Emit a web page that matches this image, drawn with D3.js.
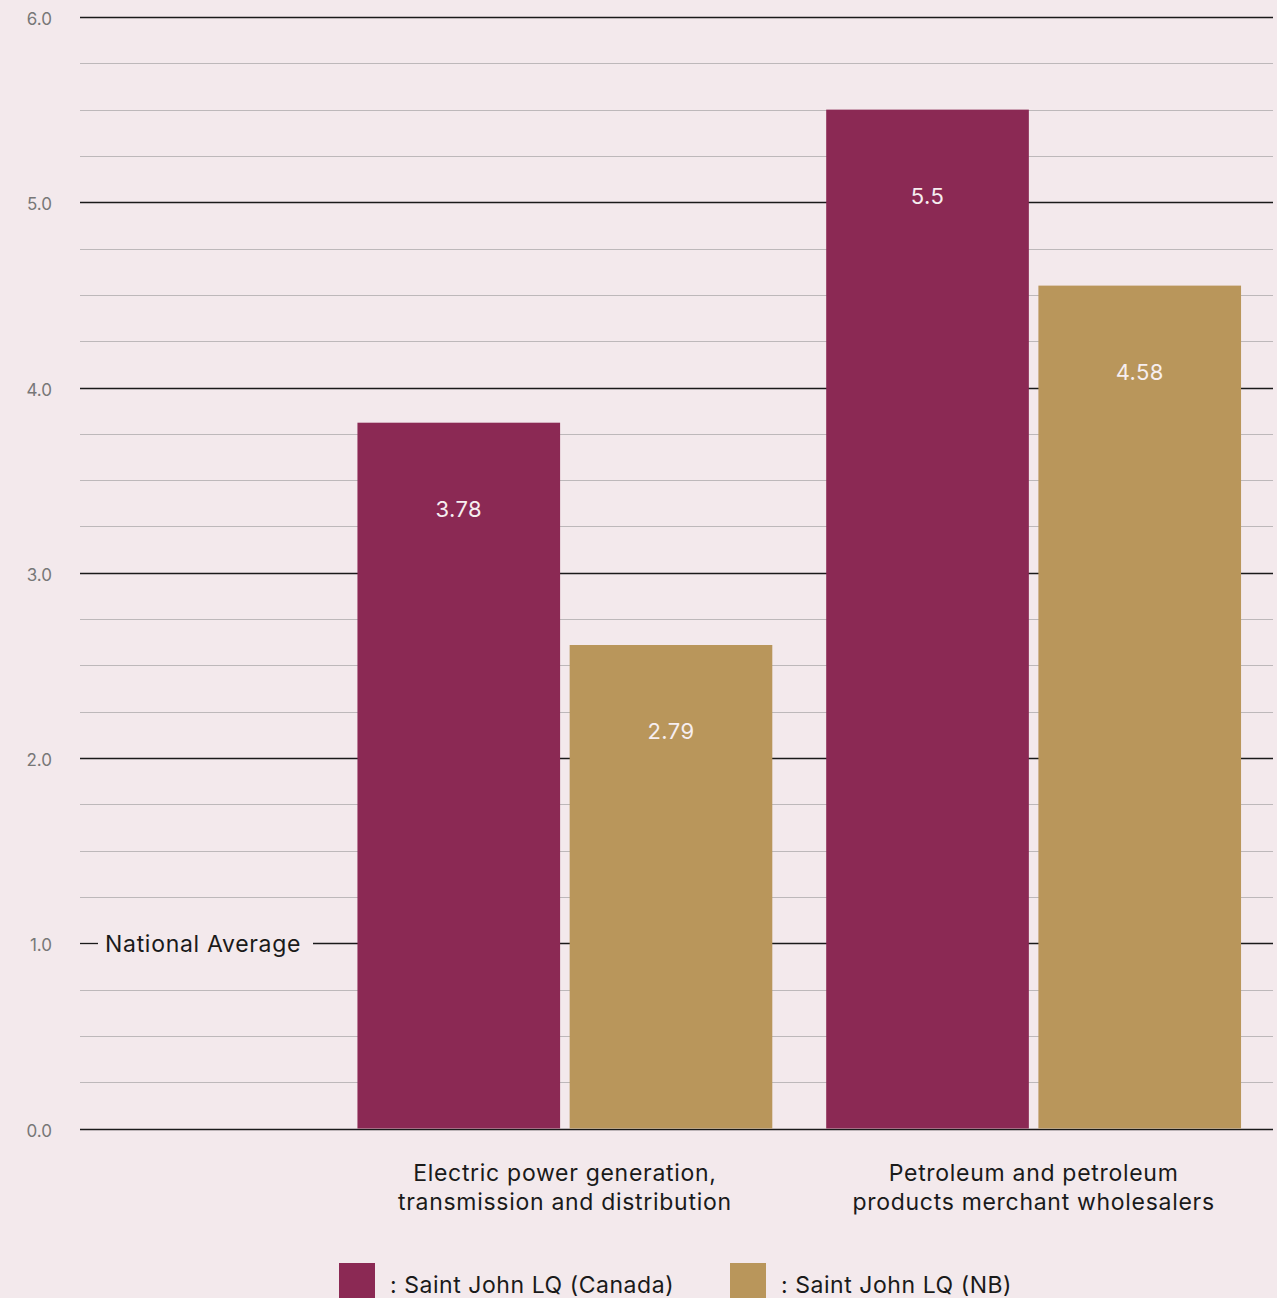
<!DOCTYPE html>
<html><head><meta charset="utf-8">
<script src="https://cdn.jsdelivr.net/npm/d3@7"></script>
<style>
html,body{margin:0;padding:0;background:#f3e9ec;}
svg{display:block;font-family:Inter,"Open Sans",sans-serif;}
</style></head>
<body>
<svg id="chart" width="1277" height="1298"></svg>
<script>
const categories = [["Electric power generation,", "transmission and distribution"], ["Petroleum and petroleum", "products merchant wholesalers"]];
const categoryKeys = ["electric", "petroleum"];
const seriesNames = [": Saint John LQ (Canada)", ": Saint John LQ (NB)"];
const canadaValues = [3.81, 5.50];
const nbValues = [2.61, 4.55];
const canadaLabels = ["3.78", "5.5"];
const nbLabels = ["2.79", "4.58"];
const yTicks = [0, 1, 2, 3, 4, 5, 6];
const yTickLabels = ["0.0", "1.0", "2.0", "3.0", "4.0", "5.0", "6.0"];
const minorTicks = d3.range(0, 6.01, 0.25);
const nationalAverage = 1.0;
const colors = ["#8b2954", "#b9965b"];

(function () {
const svg = d3.select("#chart");
const mLeft = 80, mRight = 1273, mTop = 17, mBottom = 1128.5;
const y = d3.scaleLinear().domain([0, 6]).range([mBottom, mTop]);
const x0 = d3.scaleBand().domain(categoryKeys).range([330.5, 1268]).paddingInner(0.115).paddingOuter(0.0575);
const x1 = d3.scaleBand().domain([0, 1]).range([0, x0.bandwidth()]).paddingInner(0.045);

// minor gridlines
svg.append("g").selectAll("line").data(minorTicks.filter(t => Math.abs(t - Math.round(t)) > 0.01))
  .join("line").attr("x1", mLeft).attr("x2", mRight)
  .attr("y1", d => Math.round(y(d)) + 0.5).attr("y2", d => Math.round(y(d)) + 0.5)
  .attr("stroke", "#bdb8ba").attr("stroke-width", 1.2);
// major gridlines
svg.append("g").selectAll("line").data(yTicks.filter(t => t !== nationalAverage))
  .join("line").attr("x1", mLeft).attr("x2", mRight)
  .attr("y1", d => Math.round(y(d)) + 0.5).attr("y2", d => Math.round(y(d)) + 0.5)
  .attr("stroke", "#1a1a1a").attr("stroke-width", 1.3);

// national average line with gap for label
const ny = Math.round(y(nationalAverage)) + 0.5;
svg.append("line").attr("x1", mLeft).attr("x2", 98).attr("y1", ny).attr("y2", ny).attr("stroke", "#1a1a1a").attr("stroke-width", 1.3);
svg.append("line").attr("x1", 313).attr("x2", mRight).attr("y1", ny).attr("y2", ny).attr("stroke", "#1a1a1a").attr("stroke-width", 1.3);
svg.append("text").attr("x", 105).attr("y", ny + 8).attr("font-size", 23).attr("letter-spacing", "0.7px")
  .attr("fill", "#1a1a1a").text("National Average");

// y tick labels
svg.append("g").selectAll("text").data(yTicks).join("text")
  .attr("x", 52).attr("y", d => y(d) + 8).attr("text-anchor", "end")
  .attr("font-size", 17).attr("fill", "#777").text((d, i) => yTickLabels[i]);

// bars
const seriesVals = [canadaValues, nbValues];
const seriesLabels = [canadaLabels, nbLabels];
const g = svg.append("g");
categoryKeys.forEach((k, ci) => {
  [0, 1].forEach(si => {
    const v = seriesVals[si][ci];
    const bx = x0(k) + x1(si);
    g.append("rect").attr("x", bx).attr("y", y(v)).attr("width", x1.bandwidth()).attr("height", y(0) - y(v))
      .attr("fill", colors[si]);
    g.append("text").attr("x", bx + x1.bandwidth() / 2).attr("y", y(v) + 94)
      .attr("text-anchor", "middle").attr("font-size", 22).attr("letter-spacing", "0.4px").attr("fill", "#f6eef0")
      .text(seriesLabels[si][ci]);
  });
});

// category labels
categoryKeys.forEach((k, ci) => {
  const cx = x0(k) + x0.bandwidth() / 2;
  const t = svg.append("text").attr("text-anchor", "middle").attr("font-size", 23).attr("letter-spacing", "0.7px").attr("fill", "#1a1a1a");
  categories[ci].forEach((line, li) => {
    t.append("tspan").attr("x", cx).attr("y", 1181 + li * 29).text(line);
  });
});

// legend
const legendX = [339, 730];
seriesNames.forEach((n, i) => {
  svg.append("rect").attr("x", legendX[i]).attr("y", 1263).attr("width", 36).attr("height", 40).attr("fill", colors[i]);
  svg.append("text").attr("x", legendX[i] + 51).attr("y", 1293).attr("font-size", 23).attr("letter-spacing", "0.55px")
    .attr("fill", "#1a1a1a").text(n);
});
})();
</script>
</body></html>
